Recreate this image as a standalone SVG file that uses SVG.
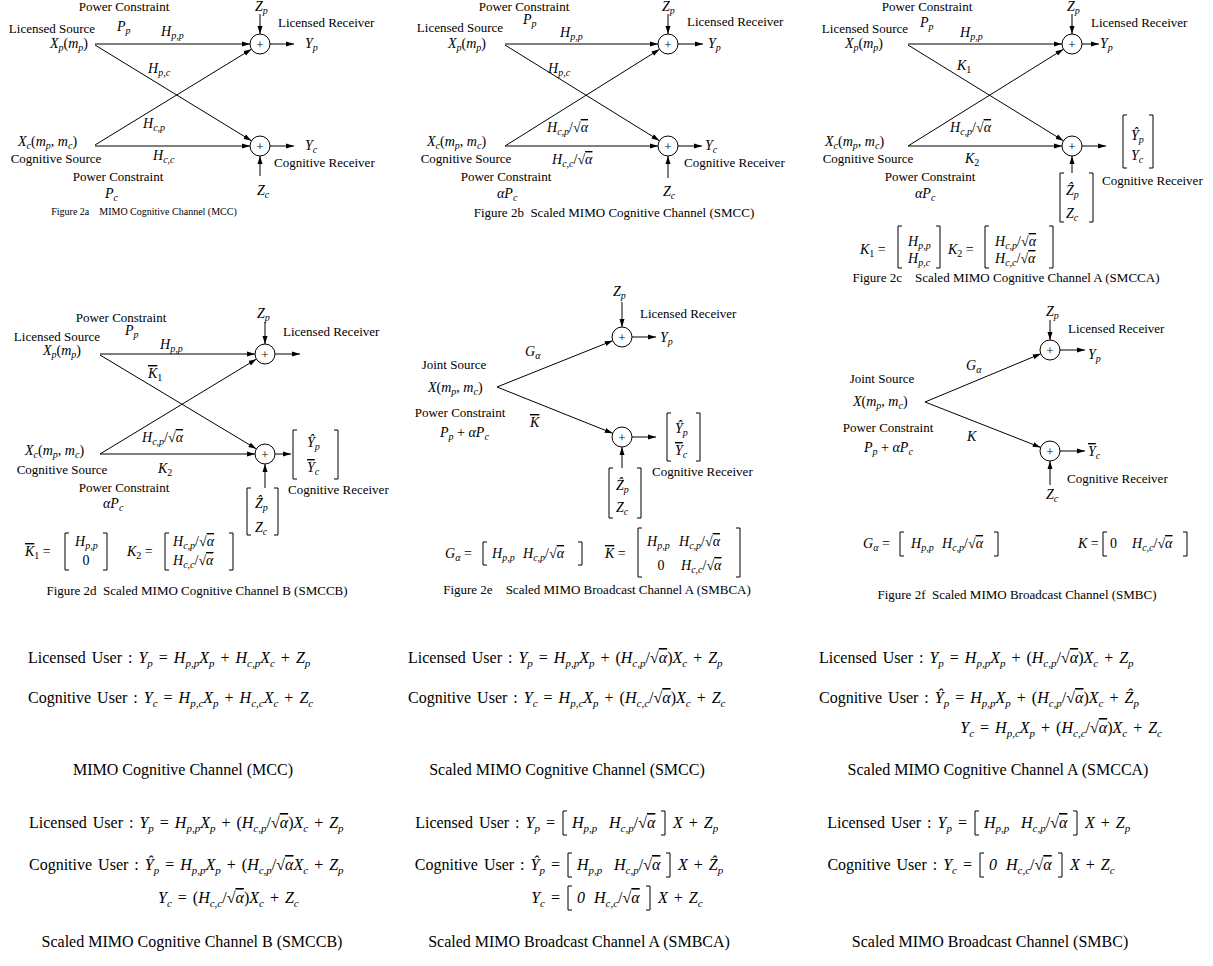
<svg xmlns="http://www.w3.org/2000/svg" width="1213" height="966" viewBox="0 0 1213 966">
<defs>
<style>
text{font-family:"Liberation Serif","Times New Roman",serif;fill:#000}
.lb{font-size:13px}
.mt{font-size:14px;font-style:italic}
.sb{font-size:10px}
.u{font-style:normal}
.o{text-decoration:overline}
.mid{text-anchor:middle}
.end{text-anchor:end}
.cap{font-size:13px;text-anchor:middle}
.e{font-size:16px;font-style:italic;word-spacing:2px}
.es{font-size:11px}
.ec{font-size:16px;text-anchor:middle}
.pl{font-size:13px;text-anchor:middle}
.ln line{stroke:#000;stroke-width:1;marker-end:url(#ah)}
circle{fill:#fff;stroke:#000;stroke-width:1}
.br{fill:none;stroke:#000;stroke-width:1}
</style>
<marker id="ah" markerUnits="userSpaceOnUse" markerWidth="8" markerHeight="6" refX="8" refY="3" orient="auto"><path d="M0,0.5 L8,3 L0,5.5 z" fill="#000"/></marker>
</defs>
<rect width="1213" height="966" fill="#fff"/>

<!-- ===== Figure 2a ===== -->
<g id="fig2a">
<g id="a-connectors" class="ln">
<line x1="95" y1="44" x2="250" y2="44"/>
<line x1="95" y1="45" x2="251.5" y2="140.8"/>
<line x1="95" y1="145" x2="251.5" y2="49.2"/>
<line x1="95" y1="146" x2="250" y2="146"/>
<line x1="270" y1="44" x2="294" y2="44"/>
<line x1="270" y1="146" x2="294" y2="146"/>
<line x1="260" y1="14" x2="260" y2="34"/>
<line x1="260" y1="176" x2="260" y2="156"/>
</g>
<g id="a-sum-p"><circle cx="260" cy="44" r="10"/><text class="pl" x="260" y="48.5">+</text></g>
<g id="a-sum-c"><circle cx="260" cy="146" r="10"/><text class="pl" x="260" y="150.5">+</text></g>
<g id="a-src-p">
<text class="lb mid" x="124" y="11">Power Constraint</text>
<text class="mt" x="117" y="31">P<tspan class="sb" dy="3">p</tspan></text>
<text class="lb mid" x="52" y="33">Licensed Source</text>
<text class="mt" x="50" y="48">X<tspan class="sb" dy="3">p</tspan><tspan class="u" dy="-3">(</tspan>m<tspan class="sb" dy="3">p</tspan><tspan class="u" dy="-3">)</tspan></text>
</g>
<g id="a-src-c">
<text class="mt" x="18" y="146">X<tspan class="sb" dy="3">c</tspan><tspan class="u" dy="-3">(</tspan>m<tspan class="sb" dy="3">p</tspan><tspan class="u" dy="-3">, </tspan>m<tspan class="sb" dy="3">c</tspan><tspan class="u" dy="-3">)</tspan></text>
<text class="lb mid" x="56" y="163">Cognitive Source</text>
<text class="lb mid" x="118" y="181">Power Constraint</text>
<text class="mt" x="105" y="198">P<tspan class="sb" dy="3">c</tspan></text>
</g>
<g id="a-rx-p">
<text class="mt" x="255" y="11">Z<tspan class="sb" dy="3">p</tspan></text>
<text class="lb" x="278" y="27">Licensed Receiver</text>
<text class="mt" x="305" y="48">Y<tspan class="sb" dy="3">p</tspan></text>
</g>
<g id="a-rx-c">
<text class="mt" x="305" y="150">Y<tspan class="sb" dy="3">c</tspan></text>
<text class="lb" x="274" y="167">Cognitive Receiver</text>
<text class="mt" x="257" y="195">Z<tspan class="sb" dy="3">c</tspan></text>
</g>
<g id="a-labels">
<text class="mt" x="161" y="36">H<tspan class="sb" dy="3">p,p</tspan></text>
<text class="mt" x="148" y="73">H<tspan class="sb" dy="3">p,c</tspan></text>
<text class="mt" x="143" y="128">H<tspan class="sb" dy="3">c,p</tspan></text>
<text class="mt" x="153" y="160">H<tspan class="sb" dy="3">c,c</tspan></text>
</g>
<text class="cap" x="144" y="215" style="font-size:10px" xml:space="preserve">Figure 2a    MIMO Cognitive Channel (MCC)</text>
</g>

<!-- ===== Figure 2b ===== -->
<g id="fig2b">
<g id="b-connectors" class="ln">
<line x1="505" y1="44" x2="658" y2="44"/>
<line x1="505" y1="45" x2="659.5" y2="140.7"/>
<line x1="505" y1="146" x2="659.5" y2="49.3"/>
<line x1="505" y1="146" x2="658" y2="146"/>
<line x1="678" y1="44" x2="703" y2="44"/>
<line x1="678" y1="146" x2="702" y2="146"/>
<line x1="668" y1="14" x2="668" y2="34"/>
<line x1="668" y1="178" x2="668" y2="156"/>
</g>
<g id="b-sum-p"><circle cx="668" cy="44" r="10"/><text class="pl" x="668" y="48.5">+</text></g>
<g id="b-sum-c"><circle cx="668" cy="146" r="10"/><text class="pl" x="668" y="150.5">+</text></g>
<g id="b-src-p">
<text class="lb mid" x="524" y="11">Power Constraint</text>
<text class="mt" x="523" y="24">P<tspan class="sb" dy="3">p</tspan></text>
<text class="lb mid" x="460" y="32">Licensed Source</text>
<text class="mt" x="448" y="48">X<tspan class="sb" dy="3">p</tspan><tspan class="u" dy="-3">(</tspan>m<tspan class="sb" dy="3">p</tspan><tspan class="u" dy="-3">)</tspan></text>
</g>
<g id="b-src-c">
<text class="mt" x="427" y="146">X<tspan class="sb" dy="3">c</tspan><tspan class="u" dy="-3">(</tspan>m<tspan class="sb" dy="3">p</tspan><tspan class="u" dy="-3">, </tspan>m<tspan class="sb" dy="3">c</tspan><tspan class="u" dy="-3">)</tspan></text>
<text class="lb mid" x="466" y="163">Cognitive Source</text>
<text class="lb mid" x="506" y="181">Power Constraint</text>
<text class="mt" x="497" y="198">αP<tspan class="sb" dy="3">c</tspan></text>
</g>
<g id="b-rx-p">
<text class="mt" x="662" y="11">Z<tspan class="sb" dy="3">p</tspan></text>
<text class="lb" x="687" y="26">Licensed Receiver</text>
<text class="mt" x="708" y="48">Y<tspan class="sb" dy="3">p</tspan></text>
</g>
<g id="b-rx-c">
<text class="mt" x="705" y="150">Y<tspan class="sb" dy="3">c</tspan></text>
<text class="lb" x="684" y="167">Cognitive Receiver</text>
<text class="mt" x="663" y="196">Z<tspan class="sb" dy="3">c</tspan></text>
</g>
<g id="b-labels">
<text class="mt" x="560" y="37">H<tspan class="sb" dy="3">p,p</tspan></text>
<text class="mt" x="548" y="73">H<tspan class="sb" dy="3">p,c</tspan></text>
<text class="mt" x="547" y="132">H<tspan class="sb" dy="3">c,p</tspan><tspan class="u" dy="-3">/√</tspan><tspan class="o">α</tspan></text>
<text class="mt" x="552" y="164">H<tspan class="sb" dy="3">c,c</tspan><tspan class="u" dy="-3">/√</tspan><tspan class="o">α</tspan></text>
</g>
<text class="cap" x="614" y="217" xml:space="preserve">Figure 2b  Scaled MIMO Cognitive Channel (SMCC)</text>
</g>

<!-- ===== Figure 2c ===== -->
<g id="fig2c">
<g id="c-connectors" class="ln">
<line x1="908" y1="44" x2="1062" y2="44"/>
<line x1="908" y1="45" x2="1063.5" y2="140.8"/>
<line x1="908" y1="146" x2="1063.5" y2="49.2"/>
<line x1="908" y1="146" x2="1062" y2="146"/>
<line x1="1082" y1="44" x2="1099" y2="44"/>
<line x1="1082" y1="146" x2="1106" y2="146"/>
<line x1="1072" y1="14" x2="1072" y2="34"/>
<line x1="1072" y1="173" x2="1072" y2="156"/>
</g>
<g id="c-sum-p"><circle cx="1072" cy="44" r="10"/><text class="pl" x="1072" y="48.5">+</text></g>
<g id="c-sum-c"><circle cx="1072" cy="146" r="10"/><text class="pl" x="1072" y="150.5">+</text></g>
<g id="c-src-p">
<text class="lb mid" x="927" y="11">Power Constraint</text>
<text class="mt" x="920" y="27">P<tspan class="sb" dy="3">p</tspan></text>
<text class="lb mid" x="865" y="33">Licensed Source</text>
<text class="mt" x="845" y="48">X<tspan class="sb" dy="3">p</tspan><tspan class="u" dy="-3">(</tspan>m<tspan class="sb" dy="3">p</tspan><tspan class="u" dy="-3">)</tspan></text>
</g>
<g id="c-src-c">
<text class="mt" x="825" y="146">X<tspan class="sb" dy="3">c</tspan><tspan class="u" dy="-3">(</tspan>m<tspan class="sb" dy="3">p</tspan><tspan class="u" dy="-3">, </tspan>m<tspan class="sb" dy="3">c</tspan><tspan class="u" dy="-3">)</tspan></text>
<text class="lb mid" x="868" y="163">Cognitive Source</text>
<text class="lb mid" x="930" y="181">Power Constraint</text>
<text class="mt" x="915" y="198">αP<tspan class="sb" dy="3">c</tspan></text>
</g>
<g id="c-rx-p">
<text class="mt" x="1067" y="11">Z<tspan class="sb" dy="3">p</tspan></text>
<text class="lb" x="1091" y="27">Licensed Receiver</text>
<text class="mt" x="1100" y="48">Y<tspan class="sb" dy="3">p</tspan></text>
</g>
<g id="c-rx-c">
<path class="br" d="M1127,115 H1123 V168 H1127 M1149,115 H1153 V168 H1149"/>
<text class="mt" x="1131" y="140">Ŷ<tspan class="sb" dy="3">p</tspan></text>
<text class="mt" x="1131" y="160">Y<tspan class="sb" dy="3">c</tspan></text>
<text class="lb" x="1102" y="185">Cognitive Receiver</text>
</g>
<g id="c-noise-c">
<path class="br" d="M1064,173 H1060 V222 H1064 M1089,173 H1093 V222 H1089"/>
<text class="mt" x="1066" y="195">Ẑ<tspan class="sb" dy="3">p</tspan></text>
<text class="mt" x="1066" y="218">Z<tspan class="sb" dy="3">c</tspan></text>
</g>
<g id="c-labels">
<text class="mt" x="960" y="37">H<tspan class="sb" dy="3">p,p</tspan></text>
<text class="mt" x="957" y="70">K<tspan class="sb u" dy="3">1</tspan></text>
<text class="mt" x="950" y="132">H<tspan class="sb" dy="3">c,p</tspan><tspan class="u" dy="-3">/√</tspan><tspan class="o">α</tspan></text>
<text class="mt" x="965" y="163">K<tspan class="sb u" dy="3">2</tspan></text>
</g>
<g id="c-defs">
<text class="mt" x="860" y="254">K<tspan class="sb u" dy="3">1</tspan><tspan class="u" dy="-3"> =</tspan></text>
<path class="br" d="M902,226 H898 V268 H902 M936,226 H940 V268 H936"/>
<text class="mt" x="908" y="246">H<tspan class="sb" dy="3">p,p</tspan></text>
<text class="mt" x="908" y="263">H<tspan class="sb" dy="3">p,c</tspan></text>
<text class="mt" x="948" y="254">K<tspan class="sb u" dy="3">2</tspan><tspan class="u" dy="-3"> =</tspan></text>
<path class="br" d="M989,226 H985 V268 H989 M1049,226 H1053 V268 H1049"/>
<text class="mt" x="995" y="246">H<tspan class="sb" dy="3">c,p</tspan><tspan class="u" dy="-3">/√</tspan><tspan class="o">α</tspan></text>
<text class="mt" x="995" y="263">H<tspan class="sb" dy="3">c,c</tspan><tspan class="u" dy="-3">/√</tspan><tspan class="o">α</tspan></text>
</g>
<text class="cap" x="1006" y="282" xml:space="preserve">Figure 2c    Scaled MIMO Cognitive Channel A (SMCCA)</text>
</g>

<!-- ===== Figure 2d ===== -->
<g id="fig2d">
<g id="d-connectors" class="ln">
<line x1="100" y1="354" x2="255" y2="354"/>
<line x1="100" y1="355" x2="256.4" y2="448.9"/>
<line x1="100" y1="454" x2="256.4" y2="359.1"/>
<line x1="100" y1="454" x2="255" y2="454"/>
<line x1="275" y1="354" x2="300" y2="354"/>
<line x1="275" y1="454" x2="291" y2="454"/>
<line x1="265" y1="322" x2="265" y2="344"/>
<line x1="265" y1="488" x2="265" y2="464"/>
</g>
<g id="d-sum-p"><circle cx="265" cy="354" r="10"/><text class="pl" x="265" y="358.5">+</text></g>
<g id="d-sum-c"><circle cx="265" cy="454" r="10"/><text class="pl" x="265" y="458.5">+</text></g>
<g id="d-src-p">
<text class="lb mid" x="121" y="322">Power Constraint</text>
<text class="mt" x="125" y="335">P<tspan class="sb" dy="3">p</tspan></text>
<text class="lb mid" x="57" y="341">Licensed Source</text>
<text class="mt" x="43" y="355">X<tspan class="sb" dy="3">p</tspan><tspan class="u" dy="-3">(</tspan>m<tspan class="sb" dy="3">p</tspan><tspan class="u" dy="-3">)</tspan></text>
</g>
<g id="d-src-c">
<text class="mt" x="25" y="455">X<tspan class="sb" dy="3">c</tspan><tspan class="u" dy="-3">(</tspan>m<tspan class="sb" dy="3">p</tspan><tspan class="u" dy="-3">, </tspan>m<tspan class="sb" dy="3">c</tspan><tspan class="u" dy="-3">)</tspan></text>
<text class="lb mid" x="62" y="474">Cognitive Source</text>
<text class="lb mid" x="124" y="492">Power Constraint</text>
<text class="mt" x="103" y="508">αP<tspan class="sb" dy="3">c</tspan></text>
</g>
<g id="d-rx-p">
<text class="mt" x="257" y="318">Z<tspan class="sb" dy="3">p</tspan></text>
<text class="lb" x="283" y="336">Licensed Receiver</text>
</g>
<g id="d-rx-c">
<path class="br" d="M297,430 H293 V479 H297 M334,430 H338 V479 H334"/>
<text class="mt" x="307" y="447">Ŷ<tspan class="sb" dy="3">p</tspan></text>
<text class="mt" x="307" y="472"><tspan class="o">Y</tspan><tspan class="sb" dy="3">c</tspan></text>
<text class="lb" x="288" y="494">Cognitive Receiver</text>
</g>
<g id="d-noise-c">
<path class="br" d="M251,488 H247 V535 H251 M274,488 H278 V535 H274"/>
<text class="mt" x="255" y="508">Ẑ<tspan class="sb" dy="3">p</tspan></text>
<text class="mt" x="255" y="532">Z<tspan class="sb" dy="3">c</tspan></text>
</g>
<g id="d-labels">
<text class="mt" x="160" y="349">H<tspan class="sb" dy="3">p,p</tspan></text>
<text class="mt" x="148" y="378"><tspan class="o">K</tspan><tspan class="sb u" dy="3">1</tspan></text>
<text class="mt" x="142" y="442">H<tspan class="sb" dy="3">c,p</tspan><tspan class="u" dy="-3">/√</tspan><tspan class="o">α</tspan></text>
<text class="mt" x="158" y="473">K<tspan class="sb u" dy="3">2</tspan></text>
</g>
<g id="d-defs">
<text class="mt" x="25" y="556"><tspan class="o">K</tspan><tspan class="sb u" dy="3">1</tspan><tspan class="u" dy="-3"> =</tspan></text>
<path class="br" d="M69,533 H65 V570 H69 M103,533 H107 V570 H103"/>
<text class="mt" x="75" y="546">H<tspan class="sb" dy="3">p,p</tspan></text>
<text class="mt u mid" x="86" y="565">0</text>
<text class="mt" x="127" y="556">K<tspan class="sb u" dy="3">2</tspan><tspan class="u" dy="-3"> =</tspan></text>
<path class="br" d="M169,533 H165 V570 H169 M229,533 H233 V570 H229"/>
<text class="mt" x="173" y="546">H<tspan class="sb" dy="3">c,p</tspan><tspan class="u" dy="-3">/√</tspan><tspan class="o">α</tspan></text>
<text class="mt" x="173" y="565">H<tspan class="sb" dy="3">c,c</tspan><tspan class="u" dy="-3">/√</tspan><tspan class="o">α</tspan></text>
</g>
<text class="cap" x="197" y="595" xml:space="preserve">Figure 2d  Scaled MIMO Cognitive Channel B (SMCCB)</text>
</g>

<!-- ===== Figure 2e ===== -->
<g id="fig2e">
<g id="e-connectors" class="ln">
<line x1="497" y1="387" x2="612.7" y2="340.7"/>
<line x1="497" y1="387" x2="612.7" y2="433.3"/>
<line x1="632" y1="337" x2="656" y2="337"/>
<line x1="632" y1="437" x2="656" y2="437"/>
<line x1="622" y1="302" x2="622" y2="327"/>
<line x1="622" y1="468" x2="622" y2="447"/>
</g>
<g id="e-sum-p"><circle cx="622" cy="337" r="10"/><text class="pl" x="622" y="341.5">+</text></g>
<g id="e-sum-c"><circle cx="622" cy="437" r="10"/><text class="pl" x="622" y="441.5">+</text></g>
<g id="e-src">
<text class="lb mid" x="454" y="369">Joint Source</text>
<text class="mt" x="428" y="392">X<tspan class="u">(</tspan>m<tspan class="sb" dy="3">p</tspan><tspan class="u" dy="-3">, </tspan>m<tspan class="sb" dy="3">c</tspan><tspan class="u" dy="-3">)</tspan></text>
<text class="lb mid" x="460" y="417">Power Constraint</text>
<text class="mt" x="440" y="437">P<tspan class="sb" dy="3">p</tspan><tspan class="u" dy="-3"> + </tspan>αP<tspan class="sb" dy="3">c</tspan></text>
</g>
<g id="e-rx-p">
<text class="mt" x="613" y="296">Z<tspan class="sb" dy="3">p</tspan></text>
<text class="lb" x="640" y="318">Licensed Receiver</text>
<text class="mt" x="660" y="342">Y<tspan class="sb" dy="3">p</tspan></text>
</g>
<g id="e-rx-c">
<path class="br" d="M671,413 H667 V461 H671 M696,413 H700 V461 H696"/>
<text class="mt" x="675" y="433">Ŷ<tspan class="sb" dy="3">p</tspan></text>
<text class="mt" x="675" y="455"><tspan class="o">Y</tspan><tspan class="sb" dy="3">c</tspan></text>
<text class="lb" x="652" y="476">Cognitive Receiver</text>
</g>
<g id="e-noise-c">
<path class="br" d="M613,468 H609 V518 H613 M637,468 H641 V518 H637"/>
<text class="mt" x="616" y="490">Ẑ<tspan class="sb" dy="3">p</tspan></text>
<text class="mt" x="616" y="512">Z<tspan class="sb" dy="3">c</tspan></text>
</g>
<g id="e-labels">
<text class="mt" x="525" y="356">G<tspan class="sb" dy="3">α</tspan></text>
<text class="mt" x="530" y="427"><tspan class="o">K</tspan></text>
</g>
<g id="e-defs">
<text class="mt" x="445" y="558">G<tspan class="sb" dy="3">α</tspan><tspan class="u" dy="-3"> =</tspan></text>
<path class="br" d="M487,542 H483 V565 H487 M578,542 H582 V565 H578"/>
<text class="mt" x="492" y="558">H<tspan class="sb" dy="3">p,p</tspan></text>
<text class="mt" x="523" y="558">H<tspan class="sb" dy="3">c,p</tspan><tspan class="u" dy="-3">/√</tspan><tspan class="o">α</tspan></text>
<text class="mt" x="605" y="558"><tspan class="o">K</tspan><tspan class="u"> =</tspan></text>
<path class="br" d="M642,528 H638 V577 H642 M736,528 H740 V577 H736"/>
<text class="mt" x="647" y="546">H<tspan class="sb" dy="3">p,p</tspan></text>
<text class="mt" x="679" y="546">H<tspan class="sb" dy="3">c,p</tspan><tspan class="u" dy="-3">/√</tspan><tspan class="o">α</tspan></text>
<text class="mt u mid" x="661" y="570">0</text>
<text class="mt" x="681" y="570">H<tspan class="sb" dy="3">c,c</tspan><tspan class="u" dy="-3">/√</tspan><tspan class="o">α</tspan></text>
</g>
<text class="cap" x="597" y="594" xml:space="preserve">Figure 2e    Scaled MIMO Broadcast Channel A (SMBCA)</text>
</g>

<!-- ===== Figure 2f ===== -->
<g id="fig2f">
<g id="f-connectors" class="ln">
<line x1="925" y1="402" x2="1040.8" y2="353.8"/>
<line x1="925" y1="402" x2="1040.7" y2="447.4"/>
<line x1="1060" y1="350" x2="1085" y2="350"/>
<line x1="1060" y1="451" x2="1085" y2="451"/>
<line x1="1050" y1="320" x2="1050" y2="340"/>
<line x1="1050" y1="485" x2="1050" y2="461"/>
</g>
<g id="f-sum-p"><circle cx="1050" cy="350" r="10"/><text class="pl" x="1050" y="354.5">+</text></g>
<g id="f-sum-c"><circle cx="1050" cy="451" r="10"/><text class="pl" x="1050" y="455.5">+</text></g>
<g id="f-src">
<text class="lb mid" x="882" y="383">Joint Source</text>
<text class="mt" x="853" y="406">X<tspan class="u">(</tspan>m<tspan class="sb" dy="3">p</tspan><tspan class="u" dy="-3">, </tspan>m<tspan class="sb" dy="3">c</tspan><tspan class="u" dy="-3">)</tspan></text>
<text class="lb mid" x="888" y="432">Power Constraint</text>
<text class="mt" x="864" y="452">P<tspan class="sb" dy="3">p</tspan><tspan class="u" dy="-3"> + </tspan>αP<tspan class="sb" dy="3">c</tspan></text>
</g>
<g id="f-rx-p">
<text class="mt" x="1046" y="316">Z<tspan class="sb" dy="3">p</tspan></text>
<text class="lb" x="1068" y="333">Licensed Receiver</text>
<text class="mt" x="1088" y="359">Y<tspan class="sb" dy="3">p</tspan></text>
</g>
<g id="f-rx-c">
<text class="mt" x="1088" y="456"><tspan class="o">Y</tspan><tspan class="sb" dy="3">c</tspan></text>
<text class="lb" x="1067" y="483">Cognitive Receiver</text>
<text class="mt" x="1046" y="499">Z<tspan class="sb" dy="3">c</tspan></text>
</g>
<g id="f-labels">
<text class="mt" x="966" y="370">G<tspan class="sb" dy="3">α</tspan></text>
<text class="mt" x="967" y="441">K</text>
</g>
<g id="f-defs">
<text class="mt" x="863" y="548">G<tspan class="sb" dy="3">α</tspan><tspan class="u" dy="-3"> =</tspan></text>
<path class="br" d="M904,532 H900 V556 H904 M994,532 H998 V556 H994"/>
<text class="mt" x="911" y="548">H<tspan class="sb" dy="3">p,p</tspan></text>
<text class="mt" x="942" y="548">H<tspan class="sb" dy="3">c,p</tspan><tspan class="u" dy="-3">/√</tspan><tspan class="o">α</tspan></text>
<text class="mt" x="1078" y="548">K<tspan class="u"> =</tspan></text>
<path class="br" d="M1107,532 H1103 V556 H1107 M1183,532 H1187 V556 H1183"/>
<text class="mt u" x="1110" y="548">0</text>
<text class="mt" x="1132" y="548">H<tspan class="sb" dy="3">c,c</tspan><tspan class="u" dy="-3">/√</tspan><tspan class="o">α</tspan></text>
</g>
<text class="cap" x="1017" y="599" xml:space="preserve">Figure 2f  Scaled MIMO Broadcast Channel (SMBC)</text>
</g>

<!-- ===== Equations, block 1 ===== -->
<g id="eq-mcc">
<text class="e" x="28" y="663"><tspan class="u">Licensed User : </tspan>Y<tspan class="es" dy="4">p</tspan><tspan class="u" dy="-4"> = </tspan>H<tspan class="es" dy="4">p,p</tspan><tspan dy="-4">X</tspan><tspan class="es" dy="4">p</tspan><tspan class="u" dy="-4"> + </tspan>H<tspan class="es" dy="4">c,p</tspan><tspan dy="-4">X</tspan><tspan class="es" dy="4">c</tspan><tspan class="u" dy="-4"> + </tspan>Z<tspan class="es" dy="4">p</tspan></text>
<text class="e" x="28" y="703"><tspan class="u">Cognitive User : </tspan>Y<tspan class="es" dy="4">c</tspan><tspan class="u" dy="-4"> = </tspan>H<tspan class="es" dy="4">p,c</tspan><tspan dy="-4">X</tspan><tspan class="es" dy="4">p</tspan><tspan class="u" dy="-4"> + </tspan>H<tspan class="es" dy="4">c,c</tspan><tspan dy="-4">X</tspan><tspan class="es" dy="4">c</tspan><tspan class="u" dy="-4"> + </tspan>Z<tspan class="es" dy="4">c</tspan></text>
<text class="ec" x="183" y="775">MIMO Cognitive Channel (MCC)</text>
</g>
<g id="eq-smcc">
<text class="e" x="408" y="663"><tspan class="u">Licensed User : </tspan>Y<tspan class="es" dy="4">p</tspan><tspan class="u" dy="-4"> = </tspan>H<tspan class="es" dy="4">p,p</tspan><tspan dy="-4">X</tspan><tspan class="es" dy="4">p</tspan><tspan class="u" dy="-4"> + (</tspan>H<tspan class="es" dy="4">c,p</tspan><tspan class="u" dy="-4">/√</tspan><tspan class="o">α</tspan><tspan class="u">)</tspan>X<tspan class="es" dy="4">c</tspan><tspan class="u" dy="-4"> + </tspan>Z<tspan class="es" dy="4">p</tspan></text>
<text class="e" x="408" y="703"><tspan class="u">Cognitive User : </tspan>Y<tspan class="es" dy="4">c</tspan><tspan class="u" dy="-4"> = </tspan>H<tspan class="es" dy="4">p,c</tspan><tspan dy="-4">X</tspan><tspan class="es" dy="4">p</tspan><tspan class="u" dy="-4"> + (</tspan>H<tspan class="es" dy="4">c,c</tspan><tspan class="u" dy="-4">/√</tspan><tspan class="o">α</tspan><tspan class="u">)</tspan>X<tspan class="es" dy="4">c</tspan><tspan class="u" dy="-4"> + </tspan>Z<tspan class="es" dy="4">c</tspan></text>
<text class="ec" x="567" y="775">Scaled MIMO Cognitive Channel (SMCC)</text>
</g>
<g id="eq-smcca">
<text class="e" x="819" y="663"><tspan class="u">Licensed User : </tspan>Y<tspan class="es" dy="4">p</tspan><tspan class="u" dy="-4"> = </tspan>H<tspan class="es" dy="4">p,p</tspan><tspan dy="-4">X</tspan><tspan class="es" dy="4">p</tspan><tspan class="u" dy="-4"> + (</tspan>H<tspan class="es" dy="4">c,p</tspan><tspan class="u" dy="-4">/√</tspan><tspan class="o">α</tspan><tspan class="u">)</tspan>X<tspan class="es" dy="4">c</tspan><tspan class="u" dy="-4"> + </tspan>Z<tspan class="es" dy="4">p</tspan></text>
<text class="e" x="819" y="703"><tspan class="u">Cognitive User : </tspan>Ŷ<tspan class="es" dy="4">p</tspan><tspan class="u" dy="-4"> = </tspan>H<tspan class="es" dy="4">p,p</tspan><tspan dy="-4">X</tspan><tspan class="es" dy="4">p</tspan><tspan class="u" dy="-4"> + (</tspan>H<tspan class="es" dy="4">c,p</tspan><tspan class="u" dy="-4">/√</tspan><tspan class="o">α</tspan><tspan class="u">)</tspan>X<tspan class="es" dy="4">c</tspan><tspan class="u" dy="-4"> + </tspan>Ẑ<tspan class="es" dy="4">p</tspan></text>
<text class="e end" x="1162" y="733">Y<tspan class="es" dy="4">c</tspan><tspan class="u" dy="-4"> = </tspan>H<tspan class="es" dy="4">p,c</tspan><tspan dy="-4">X</tspan><tspan class="es" dy="4">p</tspan><tspan class="u" dy="-4"> + (</tspan>H<tspan class="es" dy="4">c,c</tspan><tspan class="u" dy="-4">/√</tspan><tspan class="o">α</tspan><tspan class="u">)</tspan>X<tspan class="es" dy="4">c</tspan><tspan class="u" dy="-4"> + </tspan>Z<tspan class="es" dy="4">c</tspan></text>
<text class="ec" x="998" y="775">Scaled MIMO Cognitive Channel A (SMCCA)</text>
</g>

<!-- ===== Equations, block 2 ===== -->
<g id="eq-smccb">
<text class="e" x="29" y="828"><tspan class="u">Licensed User : </tspan>Y<tspan class="es" dy="4">p</tspan><tspan class="u" dy="-4"> = </tspan>H<tspan class="es" dy="4">p,p</tspan><tspan dy="-4">X</tspan><tspan class="es" dy="4">p</tspan><tspan class="u" dy="-4"> + (</tspan>H<tspan class="es" dy="4">c,p</tspan><tspan class="u" dy="-4">/√</tspan><tspan class="o">α</tspan><tspan class="u">)</tspan>X<tspan class="es" dy="4">c</tspan><tspan class="u" dy="-4"> + </tspan>Z<tspan class="es" dy="4">p</tspan></text>
<text class="e" x="29" y="870"><tspan class="u">Cognitive User : </tspan>Ŷ<tspan class="es" dy="4">p</tspan><tspan class="u" dy="-4"> = </tspan>H<tspan class="es" dy="4">p,p</tspan><tspan dy="-4">X</tspan><tspan class="es" dy="4">p</tspan><tspan class="u" dy="-4"> + (</tspan>H<tspan class="es" dy="4">c,p</tspan><tspan class="u" dy="-4">/√</tspan><tspan class="o">α</tspan>X<tspan class="es" dy="4">c</tspan><tspan class="u" dy="-4"> + </tspan>Z<tspan class="es" dy="4">p</tspan></text>
<text class="e" x="158" y="903">Y<tspan class="es" dy="4">c</tspan><tspan class="u" dy="-4"> = (</tspan>H<tspan class="es" dy="4">c,c</tspan><tspan class="u" dy="-4">/√</tspan><tspan class="o">α</tspan><tspan class="u">)</tspan>X<tspan class="es" dy="4">c</tspan><tspan class="u" dy="-4"> + </tspan>Z<tspan class="es" dy="4">c</tspan></text>
<text class="ec" x="192" y="947">Scaled MIMO Cognitive Channel B (SMCCB)</text>
</g>
<g id="eq-smbca">
<text class="e end" x="555" y="828"><tspan class="u">Licensed User : </tspan>Y<tspan class="es" dy="4">p</tspan><tspan class="u" dy="-4"> =</tspan></text>
<path class="br" d="M567,811 H563 V835 H567 M661,811 H665 V835 H661"/>
<text class="e" x="572" y="828">H<tspan class="es" dy="4">p,p</tspan></text>
<text class="e" x="609" y="828">H<tspan class="es" dy="4">c,p</tspan><tspan class="u" dy="-4">/√</tspan><tspan class="o">α</tspan></text>
<text class="e" x="673" y="828">X<tspan class="u"> + </tspan>Z<tspan class="es" dy="4">p</tspan></text>
<text class="e end" x="560" y="870"><tspan class="u">Cognitive User : </tspan>Ŷ<tspan class="es" dy="4">p</tspan><tspan class="u" dy="-4"> =</tspan></text>
<path class="br" d="M572,853 H568 V877 H572 M666,853 H670 V877 H666"/>
<text class="e" x="577" y="870">H<tspan class="es" dy="4">p,p</tspan></text>
<text class="e" x="614" y="870">H<tspan class="es" dy="4">c,p</tspan><tspan class="u" dy="-4">/√</tspan><tspan class="o">α</tspan></text>
<text class="e" x="678" y="870">X<tspan class="u"> + </tspan>Ẑ<tspan class="es" dy="4">p</tspan></text>
<text class="e end" x="560" y="903">Y<tspan class="es" dy="4">c</tspan><tspan class="u" dy="-4"> =</tspan></text>
<path class="br" d="M572,886 H568 V910 H572 M646,886 H650 V910 H646"/>
<text class="e u" x="577" y="903">0</text>
<text class="e" x="594" y="903">H<tspan class="es" dy="4">c,c</tspan><tspan class="u" dy="-4">/√</tspan><tspan class="o">α</tspan></text>
<text class="e" x="658" y="903">X<tspan class="u"> + </tspan>Z<tspan class="es" dy="4">c</tspan></text>
<text class="ec" x="579" y="947">Scaled MIMO Broadcast Channel A (SMBCA)</text>
</g>
<g id="eq-smbc">
<text class="e end" x="967" y="828"><tspan class="u">Licensed User : </tspan>Y<tspan class="es" dy="4">p</tspan><tspan class="u" dy="-4"> =</tspan></text>
<path class="br" d="M979,811 H975 V835 H979 M1073,811 H1077 V835 H1073"/>
<text class="e" x="984" y="828">H<tspan class="es" dy="4">p,p</tspan></text>
<text class="e" x="1021" y="828">H<tspan class="es" dy="4">c,p</tspan><tspan class="u" dy="-4">/√</tspan><tspan class="o">α</tspan></text>
<text class="e" x="1085" y="828">X<tspan class="u"> + </tspan>Z<tspan class="es" dy="4">p</tspan></text>
<text class="e end" x="972" y="870"><tspan class="u">Cognitive User : </tspan>Y<tspan class="es" dy="4">c</tspan><tspan class="u" dy="-4"> =</tspan></text>
<path class="br" d="M984,853 H980 V877 H984 M1058,853 H1062 V877 H1058"/>
<text class="e u" x="989" y="870">0</text>
<text class="e" x="1006" y="870">H<tspan class="es" dy="4">c,c</tspan><tspan class="u" dy="-4">/√</tspan><tspan class="o">α</tspan></text>
<text class="e" x="1070" y="870">X<tspan class="u"> + </tspan>Z<tspan class="es" dy="4">c</tspan></text>
<text class="ec" x="990" y="947">Scaled MIMO Broadcast Channel (SMBC)</text>
</g>
</svg>
